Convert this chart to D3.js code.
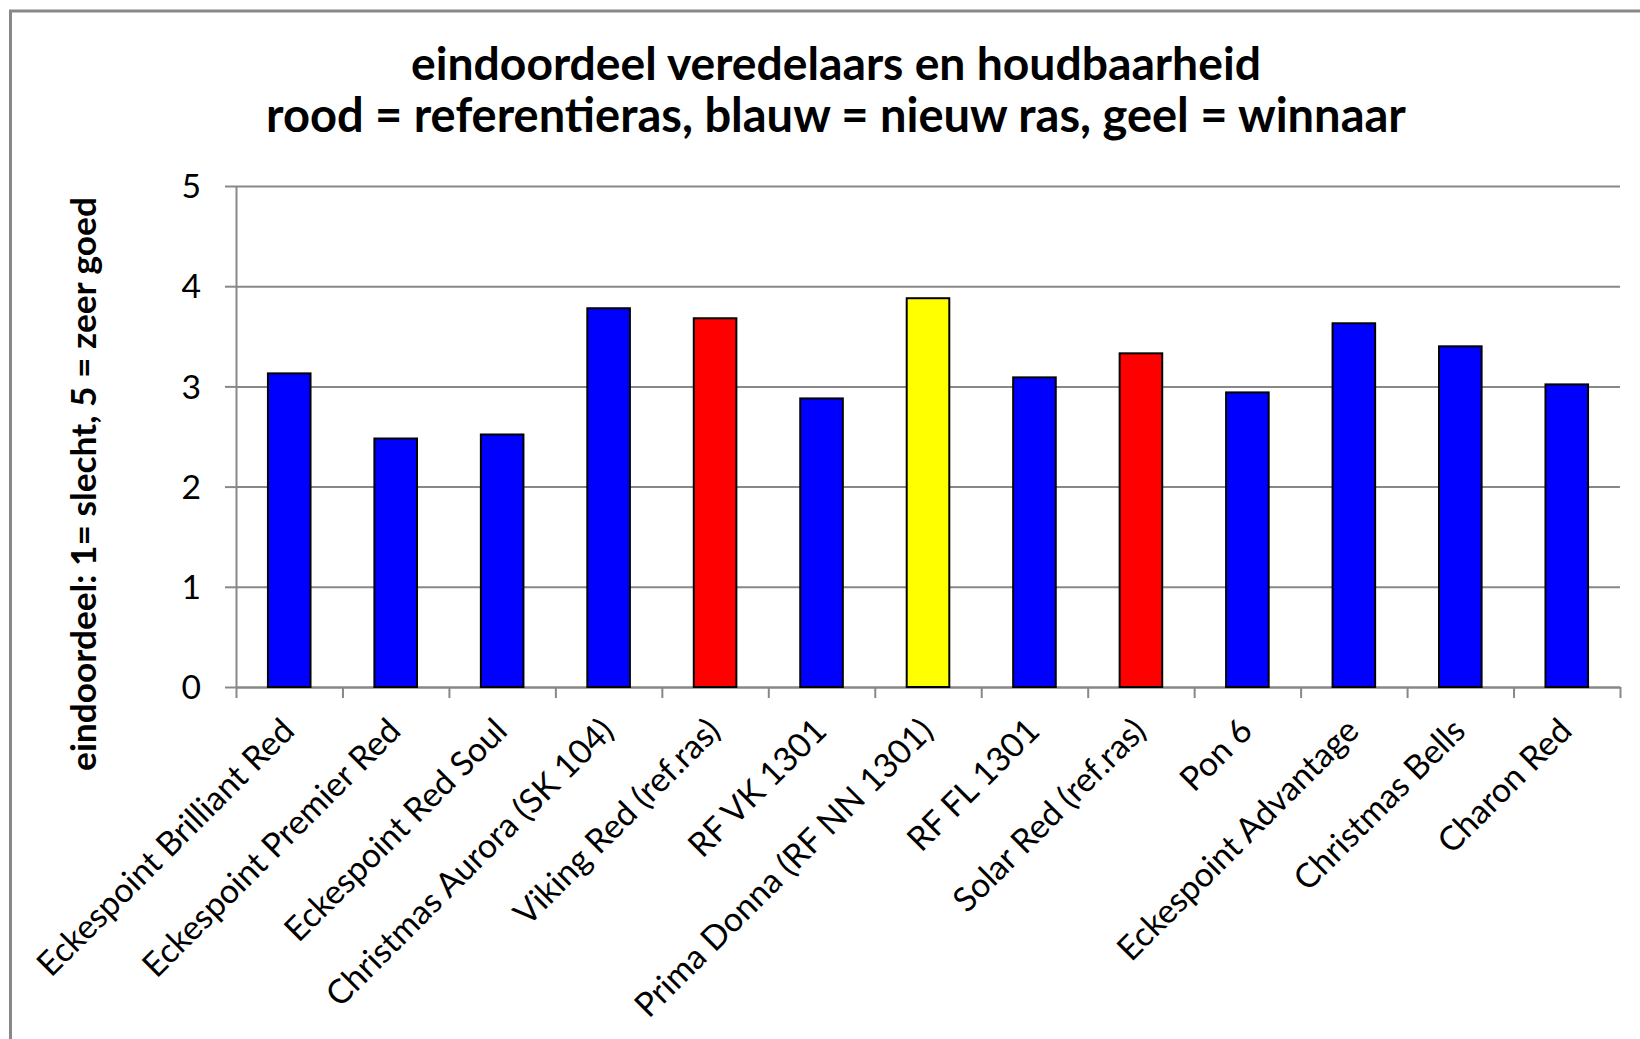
<!DOCTYPE html>
<html>
<head>
<meta charset="utf-8">
<script src="https://cdnjs.cloudflare.com/ajax/libs/d3/7.8.5/d3.min.js"></script>
<style>
body { margin: 0; background: #fff; }
text { font-family: Lato, "Open Sans", sans-serif; fill: #000; }
</style>
</head>
<body>
<div id="chart"></div>
<script>
var categories = ["Eckespoint Brilliant Red", "Eckespoint Premier Red", "Eckespoint Red Soul",
    "Christmas Aurora (SK 104)", "Viking Red (ref.ras)", "RF VK 1301", "Prima Donna (RF NN 1301)",
    "RF FL 1301", "Solar Red (ref.ras)", "Pon 6", "Eckespoint Advantage", "Christmas Bells", "Charon Red"];
var scores = [3.13, 2.48, 2.52, 3.78, 3.68, 2.88, 3.88, 3.09, 3.33, 2.94, 3.63, 3.40, 3.02];
var groups = ["nieuw", "nieuw", "nieuw", "nieuw", "referentie", "nieuw", "winnaar",
    "nieuw", "referentie", "nieuw", "nieuw", "nieuw", "nieuw"];
var groupColors = { referentie: "#ff0000", nieuw: "#0000ff", winnaar: "#ffff00" };
var yTicks = [0, 1, 2, 3, 4, 5];
var titleLines = ["eindoordeel veredelaars en houdbaarheid",
    "rood = referentieras, blauw = nieuw ras, geel = winnaar"];
var yTitle = "eindoordeel: 1= slecht, 5 = zeer goed";

var W = 1640, H = 1039;
var margin = { top: 186, right: 20, bottom: 352, left: 236 };
var width = W - margin.left - margin.right;
var height = H - margin.top - margin.bottom;
var gray = "#888";

// scale a text's font size so it gets the wanted length
function fitText(sel, target) {
    var w = sel.node().getComputedTextLength();
    var fs = parseFloat(sel.style("font-size"));
    var nfs = fs * target / w;
    sel.style("font-size", nfs + "px");
    return nfs;
}

var root = d3.select("#chart").append("svg")
    .attr("width", W)
    .attr("height", H);

// outer chart border (cut off at right and bottom in the picture)
root.append("rect")
    .attr("x", 10.5).attr("y", 11)
    .attr("width", W + 20).attr("height", H + 20)
    .attr("fill", "none")
    .attr("stroke", gray)
    .attr("stroke-width", 3);

var svg = root.append("g")
    .attr("transform", "translate(" + margin.left + "," + margin.top + ")");

var x = d3.scaleBand()
    .domain(categories)
    .range([0, width])
    .paddingInner(0.6)
    .paddingOuter(0.3);

var xi = d3.scaleLinear()
    .domain([0, categories.length])
    .range([0, width]);

var y = d3.scaleLinear()
    .domain([0, 5])
    .range([height, 0]);

// gridlines
var grid = svg.append("g")
    .attr("class", "grid")
    .call(d3.axisLeft(y).tickValues(yTicks).tickSize(-width).tickFormat(""));
grid.select(".domain").remove();
grid.selectAll("line").attr("stroke", gray).attr("stroke-width", 2);

// y axis
var yAxis = svg.append("g")
    .attr("class", "y axis")
    .call(d3.axisLeft(y).tickValues(yTicks).tickFormat(d3.format("d"))
        .tickSize(11).tickSizeOuter(0).tickPadding(24));
yAxis.select(".domain").attr("stroke", gray).attr("stroke-width", 2);
yAxis.selectAll("line").attr("stroke", gray).attr("stroke-width", 2);

// x axis, ticks between the categories
var xAxis = svg.append("g")
    .attr("class", "x axis")
    .attr("transform", "translate(0," + height + ")")
    .call(d3.axisBottom(xi).tickValues(d3.range(categories.length + 1))
        .tickSize(11).tickSizeOuter(0).tickFormat(""));
xAxis.select(".domain").attr("stroke", gray).attr("stroke-width", 2);
xAxis.selectAll("line").attr("stroke", gray).attr("stroke-width", 2);

svg.selectAll(".bar")
    .data(scores)
    .enter()
    .append("rect")
    .attr("class", "bar")
    .attr("x", (d, i) => x(categories[i]))
    .attr("y", d => y(d))
    .attr("width", x.bandwidth())
    .attr("height", d => height - y(d))
    .attr("fill", (d, i) => groupColors[groups[i]])
    .attr("stroke", "#000")
    .attr("stroke-width", 2);

// category labels
var cats = svg.selectAll(".cat")
    .data(categories)
    .enter()
    .append("text")
    .attr("class", "cat")
    .attr("text-anchor", "end")
    .attr("transform", d => "translate(" + (x(d) + x.bandwidth() / 2 + 7) + "," + (height + 46) + ") rotate(-45)")
    .style("font-size", "30px")
    .text(d => d);
var labelSize = fitText(d3.select(cats.nodes()[0]), 347);
cats.style("font-size", labelSize + "px");

yAxis.selectAll("text")
    .style("font-size", labelSize + "px")
    .attr("dy", "0.35em");

// axis title
var yt = root.append("text")
    .attr("transform", "translate(96,484) rotate(-90)")
    .attr("text-anchor", "middle")
    .style("font-weight", "bold")
    .style("font-size", "30px")
    .text(yTitle);
fitText(yt, 574);

// chart title
var t1 = root.append("text")
    .attr("x", 836).attr("y", 80)
    .attr("text-anchor", "middle")
    .style("font-weight", "bold")
    .style("font-size", "40px")
    .text(titleLines[0]);
var titleSize = fitText(t1, 850);
var t2 = root.append("text")
    .attr("x", 836).attr("y", 132)
    .attr("text-anchor", "middle")
    .style("font-weight", "bold")
    .style("font-size", titleSize + "px")
    .text(titleLines[1]);
fitText(t2, 1140);
</script>
</body>
</html>
